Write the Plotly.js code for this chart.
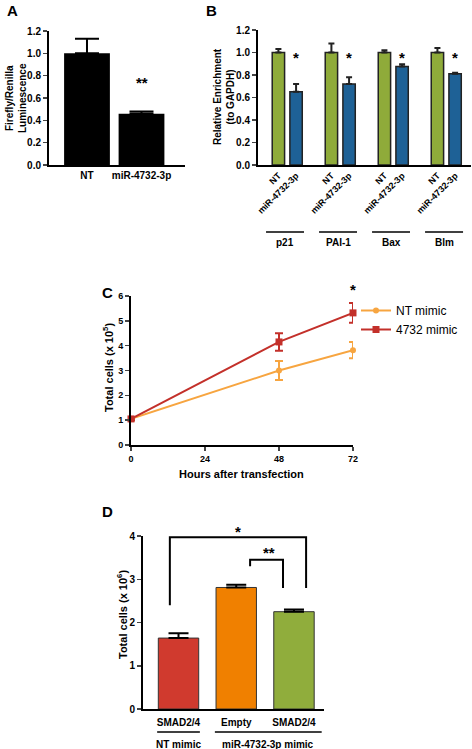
<!DOCTYPE html>
<html>
<head>
<meta charset="utf-8">
<script src="https://cdn.plot.ly/plotly-3.0.1.min.js"></script>
<style>
  html, body { margin: 0; padding: 0; background: #fff; }
  #chart { width: 472px; height: 749px; }
</style>
</head>
<body>
<div id="chart"></div>
<script>
// ---------- DATA ----------
// Panel A
const catA = ['NT', 'miR-4732-3p'];
const valA = [1.0, 0.46];
const errA = [0.13, 0.02];

// Panel B
const genesB = ['p21', 'PAI-1', 'Bax', 'Blm'];
const condB = ['NT', 'miR-4732-3p'];
const ntB = [1.0, 1.0, 1.0, 1.0];
const ntErrB = [0.03, 0.08, 0.02, 0.04];
const miB = [0.65, 0.72, 0.875, 0.81];
const miErrB = [0.07, 0.06, 0.02, 0.01];

// Panel C
const hoursC = [0, 48, 72];
const ntC = [1.05, 3.0, 3.82];
const ntErrC = [0.05, 0.38, 0.33];
const miC = [1.05, 4.15, 5.32];
const miErrC = [0.05, 0.35, 0.40];
const seriesC = ['NT mimic', '4732 mimic'];

// Panel D
const catD = ['SMAD2/4', 'Empty', 'SMAD2/4'];
const groupD = ['NT mimic', 'miR-4732-3p mimic'];
const valD = [1.64, 2.81, 2.25];
const errD = [0.11, 0.06, 0.05];

// ---------- helpers ----------
const W = 472, H = 749;
const px = v => v / W;
const py = v => 1 - v / H;
const FONT = 'Liberation Sans, Arial, sans-serif';
const tickFont = (s) => ({ family: FONT, size: s, color: '#000', weight: 700 });
const bold = (s) => ({ family: FONT, size: s, color: '#000', weight: 700 });

const GREEN = '#8fab3a', BLUE = '#1e6196';
const ORANGE_L = '#f7a540', RED_C = '#c3302a';
const RED_D = '#d03a2e', ORANGE_D = '#f08000', GREEN_D = '#90ad3c';

const axisBase = {
  showgrid: false, zeroline: false, showline: true, linecolor: '#000', linewidth: 2,
  fixedrange: true
};

// axis geometry (layout)
const domA = { x: [px(49), px(185)], y: [py(165), py(31)] };
const domB = { x: [px(258), px(471)], y: [py(165), py(30)] };
const domC = { x: [px(131), px(353)], y: [py(445), py(296)] };
const domD = { x: [px(143), px(324)], y: [py(709), py(536)] };
const rngA = { x: [-0.697, 1.798], y: [0, 1.2] };
const rngB = { x: [-1.155, 10.9], y: [0, 1.2] };
const rngC = { x: [0, 72], y: [0, 6] };
const rngD = { x: [-0.615, 2.52], y: [0, 4] };
const toPaper = (v, dom, rng) => dom[0] + (v - rng[0]) / (rng[1] - rng[0]) * (dom[1] - dom[0]);

// ---------- traces ----------
const traces = [];

// A
traces.push({
  type: 'bar', x: catA.map((_, i) => i), y: valA, width: 0.84,
  marker: { color: '#000' },
  error_y: { type: 'data', symmetric: false, array: errA, arrayminus: errA.map(() => 0),
             color: '#000', thickness: 2, width: 12 },
  xaxis: 'x', yaxis: 'y', showlegend: false, hoverinfo: 'skip'
});

// B
const xNT = genesB.map((_, g) => g * 3);
const xMI = genesB.map((_, g) => g * 3 + 1);
traces.push({
  type: 'bar', x: xNT, y: ntB, width: 0.7,
  marker: { color: GREEN, line: { color: '#222', width: 1.5 } },
  error_y: { type: 'data', symmetric: false, array: ntErrB, arrayminus: ntErrB.map(() => 0),
             color: '#222', thickness: 2, width: 3 },
  xaxis: 'x2', yaxis: 'y2', showlegend: false, hoverinfo: 'skip'
});
traces.push({
  type: 'bar', x: xMI, y: miB, width: 0.7,
  marker: { color: BLUE, line: { color: '#222', width: 1.5 } },
  error_y: { type: 'data', symmetric: false, array: miErrB, arrayminus: miErrB.map(() => 0),
             color: '#222', thickness: 2, width: 3 },
  xaxis: 'x2', yaxis: 'y2', showlegend: false, hoverinfo: 'skip'
});

// C
traces.push({
  type: 'scatter', mode: 'lines+markers', name: seriesC[0], x: hoursC, y: ntC,
  line: { color: ORANGE_L, width: 2 }, marker: { color: ORANGE_L, size: 6, symbol: 'circle' },
  error_y: { type: 'data', array: ntErrC, color: ORANGE_L, thickness: 2, width: 4 },
  xaxis: 'x3', yaxis: 'y3', cliponaxis: false, hoverinfo: 'skip'
});
traces.push({
  type: 'scatter', mode: 'lines+markers', name: seriesC[1], x: hoursC, y: miC,
  line: { color: RED_C, width: 2 }, marker: { color: RED_C, size: 7, symbol: 'square' },
  error_y: { type: 'data', array: miErrC, color: RED_C, thickness: 2, width: 4 },
  xaxis: 'x3', yaxis: 'y3', cliponaxis: false, hoverinfo: 'skip'
});

// D
traces.push({
  type: 'bar', x: catD.map((_, i) => i), y: valD, width: 0.7,
  marker: { color: [RED_D, ORANGE_D, GREEN_D], line: { color: '#333', width: 1 } },
  error_y: { type: 'data', symmetric: false, array: errD, arrayminus: errD.map(() => 0),
             color: '#000', thickness: 2, width: 10 },
  xaxis: 'x4', yaxis: 'y4', showlegend: false, hoverinfo: 'skip'
});

// ---------- layout ----------
const annotations = [];
const shapes = [];
const ann = (o) => annotations.push(Object.assign({ showarrow: false, xanchor: 'center', yanchor: 'middle',
  font: bold(11) }, o));

// panel letters
[['A', 5, 10], ['B', 204, 10], ['C', 100, 292], ['D', 100, 511]].forEach(([t, x, y]) =>
  ann({ text: t, xref: 'paper', yref: 'paper', x: px(x), y: py(y), xanchor: 'left', font: bold(15) }));

// y titles
ann({ text: 'Firefly/Renilla<br>Luminescence', xref: 'paper', yref: 'paper', x: px(16), y: py(98), textangle: -90, font: bold(10) });
ann({ text: 'Relative Enrichment<br>(to GAPDH)', xref: 'paper', yref: 'paper', x: px(224), y: py(97), textangle: -90, font: bold(10) });
ann({ text: 'Total cells (x 10<sup>5</sup>)', xref: 'paper', yref: 'paper', x: px(108), y: py(368), textangle: -90, font: bold(11) });
ann({ text: 'Total cells (x 10<sup>6</sup>)', xref: 'paper', yref: 'paper', x: px(122), y: py(614), textangle: -90, font: bold(11) });

// x title C
ann({ text: 'Hours after transfection', xref: 'paper', yref: 'paper', x: px(242), y: py(474), font: bold(11) });

// significance stars
ann({ text: '**', xref: 'x', yref: 'y', x: 1, y: 0.74, font: bold(15) });
xMI.forEach(x => ann({ text: '*', xref: 'x2', yref: 'y2', x: x, y: 0.96, font: bold(15) }));
ann({ text: '*', xref: 'paper', yref: 'paper', x: toPaper(72, domC.x, rngC.x), y: toPaper(6.25, domC.y, rngC.y), font: bold(15) });
ann({ text: '*', xref: 'paper', yref: 'paper', x: toPaper(1.03, domD.x, rngD.x), y: toPaper(4.1, domD.y, rngD.y), font: bold(15) });
ann({ text: '**', xref: 'x4', yref: 'y4', x: 1.57, y: 3.62, font: bold(15) });

// B group underlines + labels
genesB.forEach((g, i) => {
  shapes.push({ type: 'line', xref: 'x2', yref: 'paper', x0: i * 3 - 0.7, x1: i * 3 + 1.45, y0: py(232), y1: py(232),
                line: { color: '#000', width: 1.5 } });
  ann({ text: g, xref: 'x2', yref: 'paper', x: i * 3 + 0.4, y: py(242), font: bold(10) });
});

// D group underlines + labels
[[-0.37, 0.37, 0], [0.63, 2.48, 1]].forEach(([a, b, gi]) => {
  shapes.push({ type: 'line', xref: 'x4', yref: 'paper', x0: a, x1: b, y0: py(732), y1: py(732),
                line: { color: '#000', width: 1.5 } });
  ann({ text: groupD[gi], xref: 'x4', yref: 'paper', x: (a + b) / 2, y: py(744), font: bold(10) });
});

// D brackets
shapes.push({ type: 'path', xref: 'x4', yref: 'y4',
  path: 'M -0.15 2.4 L -0.15 3.97 L 2.21 3.97 L 2.21 2.8', line: { color: '#000', width: 2 } });
shapes.push({ type: 'path', xref: 'x4', yref: 'y4',
  path: 'M 1.24 3.3 L 1.24 3.45 L 1.81 3.45 L 1.81 2.8', line: { color: '#000', width: 2 } });

const layout = {
  width: W, height: H,
  margin: { l: 0, r: 0, t: 0, b: 0 },
  paper_bgcolor: '#fff', plot_bgcolor: 'rgba(0,0,0,0)',
  font: { family: FONT, color: '#000' },
  barmode: 'overlay',
  showlegend: true,
  legend: { x: px(356), y: py(296), xanchor: 'left', yanchor: 'top', bgcolor: 'rgba(0,0,0,0)',
            font: { family: FONT, size: 12, color: '#000' }, itemwidth: 30, tracegroupgap: 0 },
  xaxis: Object.assign({}, axisBase, {
    domain: domA.x, range: rngA.x, anchor: 'y',
    tickvals: catA.map((_, i) => i), ticktext: catA, ticks: '', tickfont: tickFont(10)
  }),
  yaxis: Object.assign({}, axisBase, {
    domain: domA.y, range: rngA.y, anchor: 'x',
    tickvals: [0, 0.2, 0.4, 0.6, 0.8, 1.0, 1.2], ticktext: ['0.0', '0.2', '0.4', '0.6', '0.8', '1.0', '1.2'],
    ticks: 'outside', ticklen: 4, tickwidth: 1.5, tickfont: tickFont(10)
  }),
  xaxis2: Object.assign({}, axisBase, {
    domain: domB.x, range: rngB.x, anchor: 'y2',
    tickvals: xNT.concat(xMI), ticktext: xNT.map(() => condB[0]).concat(xMI.map(() => condB[1])),
    ticks: '', tickangle: -45, tickfont: tickFont(9)
  }),
  yaxis2: Object.assign({}, axisBase, {
    domain: domB.y, range: rngB.y, anchor: 'x2',
    tickvals: [0, 0.2, 0.4, 0.6, 0.8, 1.0, 1.2], ticktext: ['0.0', '0.2', '0.4', '0.6', '0.8', '1.0', '1.2'],
    ticks: 'outside', ticklen: 4, tickwidth: 1.5, tickfont: tickFont(10)
  }),
  xaxis3: Object.assign({}, axisBase, {
    domain: domC.x, range: rngC.x, anchor: 'y3',
    tickvals: [0, 24, 48, 72], ticks: 'outside', ticklen: 4, tickwidth: 1.5, tickfont: tickFont(9)
  }),
  yaxis3: Object.assign({}, axisBase, {
    domain: domC.y, range: rngC.y, anchor: 'x3',
    tickvals: [0, 1, 2, 3, 4, 5, 6], ticks: 'outside', ticklen: 4, tickwidth: 1.5, tickfont: tickFont(9)
  }),
  xaxis4: Object.assign({}, axisBase, {
    domain: domD.x, range: rngD.x, anchor: 'y4',
    tickvals: catD.map((_, i) => i), ticktext: catD, ticks: '', tickfont: tickFont(10), ticklabelstandoff: 3
  }),
  yaxis4: Object.assign({}, axisBase, {
    domain: domD.y, range: rngD.y, anchor: 'x4',
    tickvals: [0, 1, 2, 3, 4], ticks: 'outside', ticklen: 4, tickwidth: 1.5, tickfont: tickFont(10)
  }),
  annotations: annotations,
  shapes: shapes
};

Plotly.newPlot('chart', traces, layout, { staticPlot: true, displayModeBar: false });
</script>
</body>
</html>
